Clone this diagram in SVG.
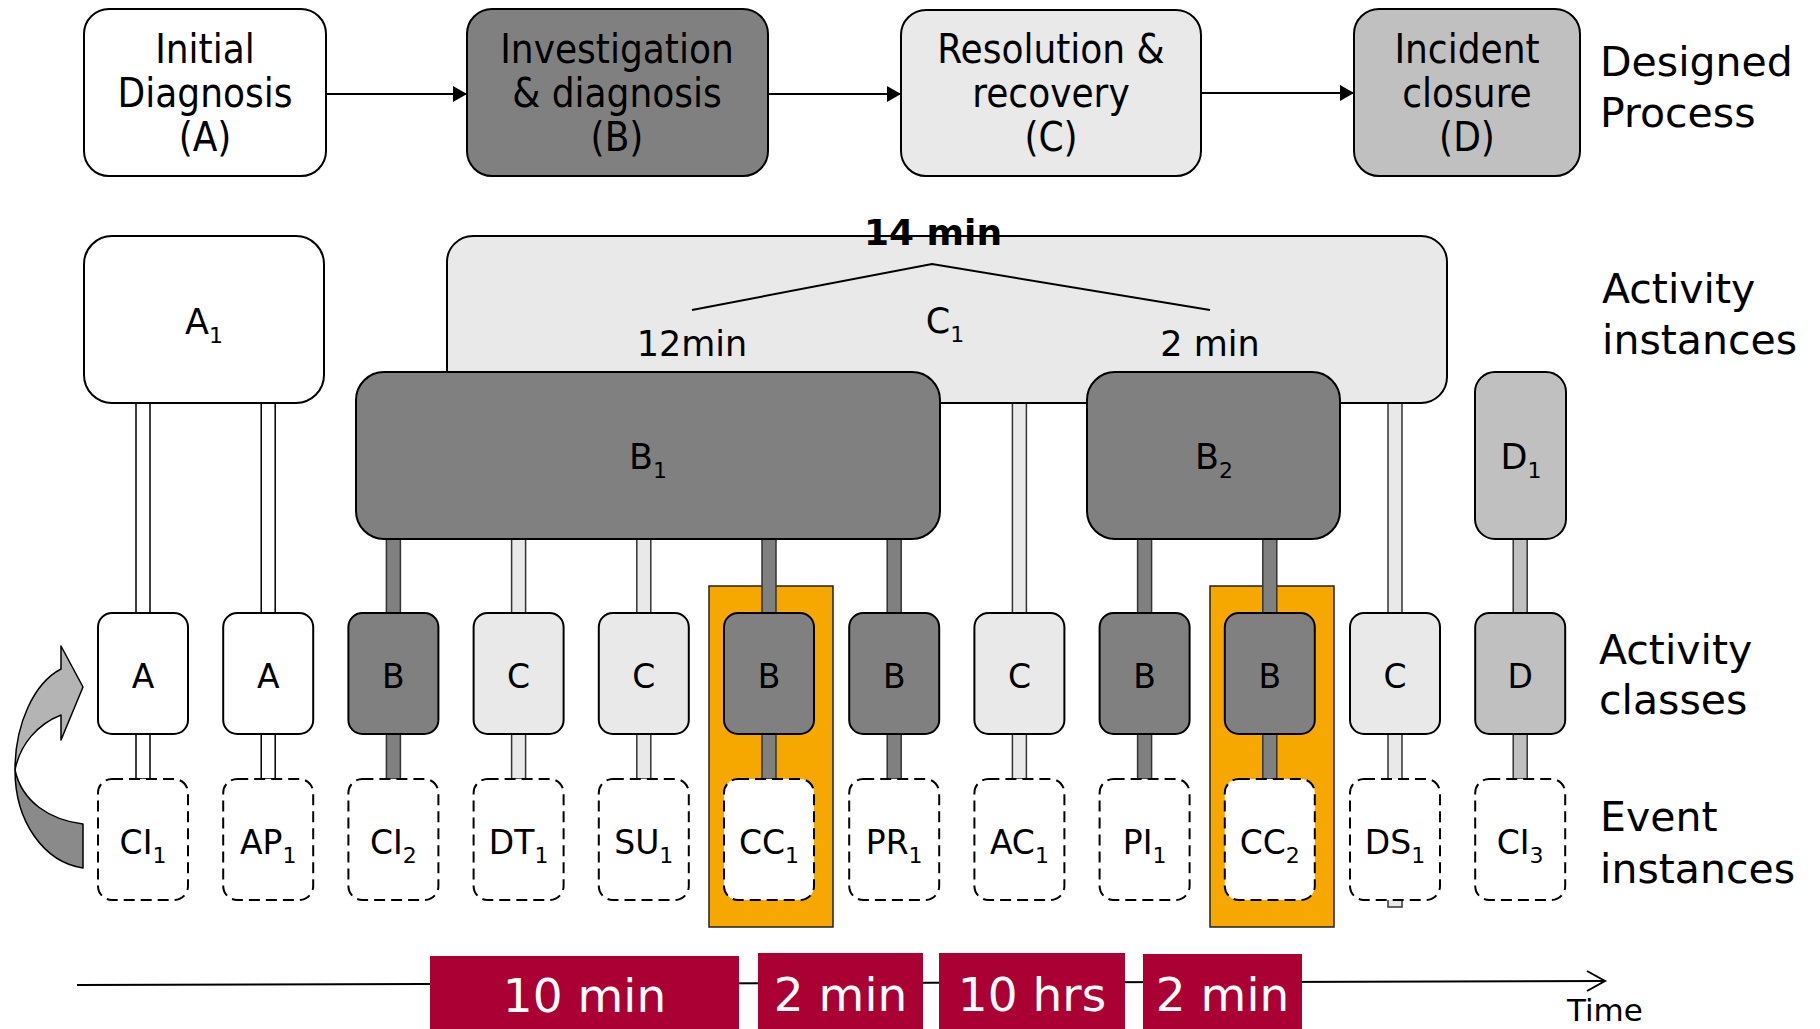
<svg xmlns="http://www.w3.org/2000/svg" width="1820" height="1029" viewBox="0 0 1820 1029">
<defs>
<style>
.bx{stroke:#000;stroke-width:2}
.w{fill:#fff}.dk{fill:#808080}.lt{fill:#e8e9e8}.md{fill:#c0c0c0}
.ev{fill:#fff;stroke:#000;stroke-width:2;stroke-dasharray:11 6}
.pw{fill:#fff;stroke:#000;stroke-width:1.5}
.pd{fill:#808080;stroke:#333;stroke-width:1.5}
.pl{fill:#e8e9e8;stroke:#333;stroke-width:1.5}
.pm{fill:#c0c0c0;stroke:#333;stroke-width:1.5}
.hl{fill:#f7a800;stroke:#222;stroke-width:1.5}
.ln{stroke:#000;stroke-width:2;fill:none}
text{font-family:"DejaVu Sans","Verdana",sans-serif;fill:#000}
.tc{font-family:"DejaVu Sans Condensed","DejaVu Sans",sans-serif;font-stretch:condensed;font-size:40px;text-anchor:middle}
.side{font-size:41px}
.lab{font-size:35px;text-anchor:middle}
.cls{font-size:33px;text-anchor:middle}
.sub{font-size:22px}
.red{fill:#ab0033}
.wt{fill:#fff;font-size:47px;text-anchor:middle}
</style>
<marker id="ah" viewBox="0 0 14 16" refX="14" refY="8" markerWidth="14" markerHeight="16" markerUnits="userSpaceOnUse" orient="auto">
<path d="M0 0 L14 8 L0 16 Z" fill="#000"/>
</marker>
</defs>

<!-- highlight rectangles -->
<rect class="hl" x="709" y="586" width="124" height="341"/>
<rect class="hl" x="1210" y="586" width="124" height="341"/>

<g id="connectors">
<line class="ln" x1="326" y1="94" x2="467" y2="94" marker-end="url(#ah)"/>
<line class="ln" x1="769" y1="94" x2="901" y2="94" marker-end="url(#ah)"/>
<line class="ln" x1="1202" y1="93" x2="1354" y2="93" marker-end="url(#ah)"/>
<!-- pipes top -->
<rect class="pw" x="136" y="403" width="14" height="210"/>
<rect class="pw" x="261.2" y="403" width="14" height="210"/>
<rect class="pd" x="386.4" y="539" width="14" height="74"/>
<rect class="pl" x="511.6" y="403" width="14" height="210"/>
<rect class="pl" x="636.8" y="403" width="14" height="210"/>
<rect class="pd" x="762" y="539" width="14" height="74"/>
<rect class="pd" x="887.2" y="539" width="14" height="74"/>
<rect class="pl" x="1012.4" y="403" width="14" height="210"/>
<rect class="pd" x="1137.6" y="539" width="14" height="74"/>
<rect class="pd" x="1262.8" y="539" width="14" height="74"/>
<rect class="pl" x="1388" y="403" width="14" height="210"/>
<rect class="pm" x="1513.2" y="539" width="14" height="74"/>
<!-- pipes bottom -->
<rect class="pw" x="136" y="734" width="14" height="45"/>
<rect class="pw" x="261.2" y="734" width="14" height="45"/>
<rect class="pd" x="386.4" y="734" width="14" height="45"/>
<rect class="pl" x="511.6" y="734" width="14" height="45"/>
<rect class="pl" x="636.8" y="734" width="14" height="45"/>
<rect class="pd" x="762" y="734" width="14" height="45"/>
<rect class="pd" x="887.2" y="734" width="14" height="45"/>
<rect class="pl" x="1012.4" y="734" width="14" height="45"/>
<rect class="pd" x="1137.6" y="734" width="14" height="45"/>
<rect class="pd" x="1262.8" y="734" width="14" height="45"/>
<rect class="pl" x="1388" y="734" width="14" height="173"/>
<rect class="pm" x="1513.2" y="734" width="14" height="45"/>
<!-- curved arrow -->
<path d="M61 646 L83 687 L61 740 L61 715 C38 724 20 744 15 770 C15 724 34 683 61 669 Z" fill="#b4b4b4" stroke="#000" stroke-width="1.5" stroke-linejoin="round"/>
<path d="M15 770 C15 822 44 862 83 868 L83 824 C50 820 22 802 15 770 Z" fill="#8a8a8a" stroke="#000" stroke-width="1.5" stroke-linejoin="round"/>
</g>

<!-- designed process -->
<g id="nodeA">
<rect class="bx w" x="84" y="9" width="242" height="167" rx="25"/>
<text class="tc" x="205" y="63">Initial</text>
<text class="tc" x="205" y="107">Diagnosis</text>
<text class="tc" x="205" y="151">(A)</text>
</g>
<g id="nodeB">
<rect class="bx dk" x="467" y="9" width="301" height="167" rx="25"/>
<text class="tc" x="617" y="63">Investigation</text>
<text class="tc" x="617" y="107">&amp; diagnosis</text>
<text class="tc" x="617" y="151">(B)</text>
</g>
<g id="nodeC">
<rect class="bx lt" x="901" y="10" width="300" height="166" rx="25"/>
<text class="tc" x="1051" y="63">Resolution &amp;</text>
<text class="tc" x="1051" y="107">recovery</text>
<text class="tc" x="1051" y="151">(C)</text>
</g>
<g id="nodeD">
<rect class="bx md" x="1354" y="9" width="226" height="167" rx="25"/>
<text class="tc" x="1467" y="63">Incident</text>
<text class="tc" x="1467" y="107">closure</text>
<text class="tc" x="1467" y="151">(D)</text>
</g>

<!-- activity instances -->
<g id="A1">
<rect class="bx w" x="84" y="236" width="240" height="167" rx="28"/>
<text class="lab" x="204" y="334">A<tspan class="sub" dy="9">1</tspan></text>
</g>
<g id="C1">
<rect class="bx lt" x="447" y="236" width="1000" height="167" rx="26"/>
<polyline class="ln" points="692,310 932,264 1210,310"/>
<text x="933" y="245" style="font-weight:bold;font-size:36px;text-anchor:middle">14 min</text>
<text class="lab" x="692" y="356">12min</text>
<text class="lab" x="945" y="333">C<tspan class="sub" dy="9">1</tspan></text>
<text class="lab" x="1210" y="356">2 min</text>
</g>
<g id="B1">
<rect class="bx dk" x="356" y="372" width="584" height="167" rx="28"/>
<text class="lab" x="648" y="469">B<tspan class="sub" dy="9">1</tspan></text>
</g>
<g id="B2">
<rect class="bx dk" x="1087" y="372" width="253" height="167" rx="28"/>
<text class="lab" x="1214" y="469">B<tspan class="sub" dy="9">2</tspan></text>
</g>
<g id="D1">
<rect class="bx md" x="1475" y="372" width="91" height="167" rx="20"/>
<text class="lab" x="1521" y="469">D<tspan class="sub" dy="9">1</tspan></text>
</g>

<!-- activity classes -->
<g id="cls1"><rect class="bx w" x="98" y="613" width="90" height="121" rx="14"/><text class="cls" x="143" y="688">A</text></g>
<g id="cls2"><rect class="bx w" x="223.2" y="613" width="90" height="121" rx="14"/><text class="cls" x="268.2" y="688">A</text></g>
<g id="cls3"><rect class="bx dk" x="348.4" y="613" width="90" height="121" rx="14"/><text class="cls" x="393.4" y="688">B</text></g>
<g id="cls4"><rect class="bx lt" x="473.6" y="613" width="90" height="121" rx="14"/><text class="cls" x="518.6" y="688">C</text></g>
<g id="cls5"><rect class="bx lt" x="598.8" y="613" width="90" height="121" rx="14"/><text class="cls" x="643.8" y="688">C</text></g>
<g id="cls6"><rect class="bx dk" x="724" y="613" width="90" height="121" rx="14"/><text class="cls" x="769" y="688">B</text></g>
<g id="cls7"><rect class="bx dk" x="849.2" y="613" width="90" height="121" rx="14"/><text class="cls" x="894.2" y="688">B</text></g>
<g id="cls8"><rect class="bx lt" x="974.4" y="613" width="90" height="121" rx="14"/><text class="cls" x="1019.4" y="688">C</text></g>
<g id="cls9"><rect class="bx dk" x="1099.6" y="613" width="90" height="121" rx="14"/><text class="cls" x="1144.6" y="688">B</text></g>
<g id="cls10"><rect class="bx dk" x="1224.8" y="613" width="90" height="121" rx="14"/><text class="cls" x="1269.8" y="688">B</text></g>
<g id="cls11"><rect class="bx lt" x="1350" y="613" width="90" height="121" rx="14"/><text class="cls" x="1395" y="688">C</text></g>
<g id="cls12"><rect class="bx md" x="1475.2" y="613" width="90" height="121" rx="14"/><text class="cls" x="1520.2" y="688">D</text></g>

<!-- event instances -->
<g id="ev1"><rect class="ev" x="98" y="779" width="90" height="121" rx="14"/><text class="cls" x="143" y="854">CI<tspan class="sub" dy="9">1</tspan></text></g>
<g id="ev2"><rect class="ev" x="223.2" y="779" width="90" height="121" rx="14"/><text class="cls" x="268.2" y="854">AP<tspan class="sub" dy="9">1</tspan></text></g>
<g id="ev3"><rect class="ev" x="348.4" y="779" width="90" height="121" rx="14"/><text class="cls" x="393.4" y="854">CI<tspan class="sub" dy="9">2</tspan></text></g>
<g id="ev4"><rect class="ev" x="473.6" y="779" width="90" height="121" rx="14"/><text class="cls" x="518.6" y="854">DT<tspan class="sub" dy="9">1</tspan></text></g>
<g id="ev5"><rect class="ev" x="598.8" y="779" width="90" height="121" rx="14"/><text class="cls" x="643.8" y="854">SU<tspan class="sub" dy="9">1</tspan></text></g>
<g id="ev6"><rect class="ev" x="724" y="779" width="90" height="121" rx="14"/><text class="cls" x="769" y="854">CC<tspan class="sub" dy="9">1</tspan></text></g>
<g id="ev7"><rect class="ev" x="849.2" y="779" width="90" height="121" rx="14"/><text class="cls" x="894.2" y="854">PR<tspan class="sub" dy="9">1</tspan></text></g>
<g id="ev8"><rect class="ev" x="974.4" y="779" width="90" height="121" rx="14"/><text class="cls" x="1019.4" y="854">AC<tspan class="sub" dy="9">1</tspan></text></g>
<g id="ev9"><rect class="ev" x="1099.6" y="779" width="90" height="121" rx="14"/><text class="cls" x="1144.6" y="854">PI<tspan class="sub" dy="9">1</tspan></text></g>
<g id="ev10"><rect class="ev" x="1224.8" y="779" width="90" height="121" rx="14"/><text class="cls" x="1269.8" y="854">CC<tspan class="sub" dy="9">2</tspan></text></g>
<g id="ev11"><rect class="ev" x="1350" y="779" width="90" height="121" rx="14"/><text class="cls" x="1395" y="854">DS<tspan class="sub" dy="9">1</tspan></text></g>
<g id="ev12"><rect class="ev" x="1475.2" y="779" width="90" height="121" rx="14"/><text class="cls" x="1520.2" y="854">CI<tspan class="sub" dy="9">3</tspan></text></g>

<!-- side labels -->
<g id="labels">
<text class="side" x="1600" y="76">Designed</text>
<text class="side" x="1600" y="127">Process</text>
<text class="side" x="1602" y="303">Activity</text>
<text class="side" x="1602" y="354">instances</text>
<text class="side" x="1599" y="664">Activity</text>
<text class="side" x="1599" y="714">classes</text>
<text class="side" x="1600" y="831">Event</text>
<text class="side" x="1600" y="883">instances</text>
</g>

<!-- timeline -->
<g id="timeline">
<line class="ln" x1="77" y1="985" x2="1605" y2="981"/>
<polyline class="ln" points="1587,971 1605,981 1587,991"/>
<text x="1567" y="1021" style="font-size:31px">Time</text>
<rect class="red" x="430" y="956" width="309" height="73"/>
<text class="wt" x="584.5" y="1012">10 min</text>
<rect class="red" x="758" y="953" width="165" height="76"/>
<text class="wt" x="840.5" y="1011">2 min</text>
<rect class="red" x="939" y="953" width="186" height="76"/>
<text class="wt" x="1032" y="1011">10 hrs</text>
<rect class="red" x="1143" y="954" width="159" height="75"/>
<text class="wt" x="1222.5" y="1011">2 min</text>
</g>
</svg>
